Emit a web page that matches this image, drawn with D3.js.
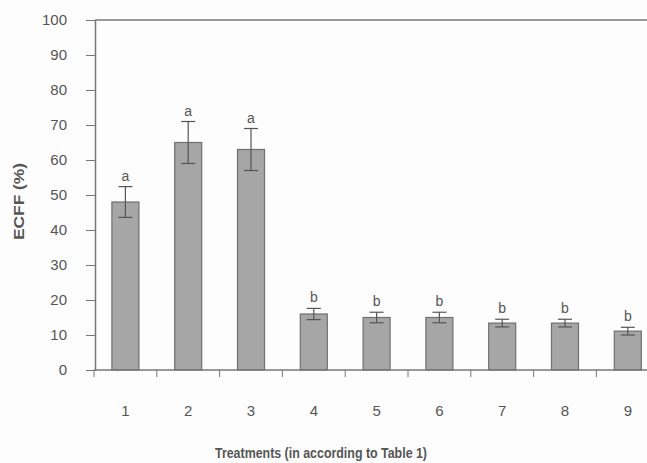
<!DOCTYPE html>
<html lang="en">
<head>
    <meta charset="UTF-8">
    <title>ECFF by treatment</title>
    <script src="https://cdn.jsdelivr.net/npm/d3@7"></script>
    <style>
        body{
            margin:0;
            background-color:#fdfdfd;
        }
        .textos{
            font-family: 'Liberation Sans', Arial, sans-serif;
            fill:#555;
        }
    </style>
</head>
<body>
    <div id="grafico"></div>

<script>
var treatments = ["1","2","3","4","5","6","7","8","9"];
var ecff = [48, 65, 63, 16, 15, 15, 13.4, 13.4, 11.1];
var errors = [4.4, 6, 6, 1.6, 1.5, 1.5, 1.1, 1.1, 1.1];
var letters = ["a","a","a","b","b","b","b","b","b"];
var yTicks = [0,10,20,30,40,50,60,70,80,90,100];

var w = 647;
var h = 463;
var margenIzq = 95, margenSup = 20, base = 370;
var bandW = 62.8;

var xScale = d3.scaleBand()
    .domain(treatments)
    .range([margenIzq - 1, margenIzq - 1 + bandW * treatments.length])
    .paddingInner(0.57)
    .paddingOuter(0.285)

var xTicks = d3.scaleBand()
    .domain(treatments)
    .range([margenIzq - 1, margenIzq - 1 + bandW * treatments.length])

var yScale = d3.scaleLinear()
    .domain([0, 100])
    .range([base, margenSup])

var grafico = d3.select("#grafico")
    .append("svg")
    .attr("width", w)
    .attr("height", h);

// linea superior
grafico.append("line")
    .attr("x1", margenIzq).attr("x2", w)
    .attr("y1", yScale(100)).attr("y2", yScale(100))
    .attr("stroke", "#777").attr("stroke-width", 1.5)

// eje y
var ejeY = grafico.append("g")
    .attr("transform", "translate(" + margenIzq + ",0)")
    .call(d3.axisLeft(yScale).tickValues(yTicks).tickSize(9).tickPadding(19).tickSizeOuter(0))
ejeY.select(".domain").attr("stroke", "#777").attr("stroke-width", 1.5)
ejeY.selectAll(".tick line").attr("stroke", "#777")
ejeY.selectAll("text").attr("class", "textos").style("font-size", "15px").attr("fill", "#555")

// barras
grafico.selectAll("rect.barra")
    .data(ecff)
    .enter()
    .append("rect")
    .attr("class", "barra")
    .attr("x", function(d, i){ return xScale(treatments[i]) })
    .attr("width", xScale.bandwidth())
    .attr("y", function(d){ return yScale(d) })
    .attr("height", function(d){ return base - yScale(d) })
    .attr("fill", "#a6a6a6")
    .attr("stroke", "#6f6f6f")
    .attr("stroke-width", 1.2)

// barras de error
var err = grafico.selectAll("g.err")
    .data(ecff)
    .enter()
    .append("g")
    .attr("class", "err")
    .attr("stroke", "#555")
    .attr("stroke-width", 1.2)
err.append("line")
    .attr("x1", function(d, i){ return xScale(treatments[i]) + xScale.bandwidth()/2 })
    .attr("x2", function(d, i){ return xScale(treatments[i]) + xScale.bandwidth()/2 })
    .attr("y1", function(d, i){ return yScale(d + errors[i]) })
    .attr("y2", function(d, i){ return yScale(d - errors[i]) })
err.selectAll("line.cap")
    .data(function(d, i){ return [[i, d + errors[i]], [i, d - errors[i]]] })
    .enter()
    .append("line")
    .attr("class", "cap")
    .attr("x1", function(d){ return xScale(treatments[d[0]]) + xScale.bandwidth()/2 - 7 })
    .attr("x2", function(d){ return xScale(treatments[d[0]]) + xScale.bandwidth()/2 + 7 })
    .attr("y1", function(d){ return yScale(d[1]) })
    .attr("y2", function(d){ return yScale(d[1]) })

// letras
grafico.selectAll("text.letra")
    .data(letters)
    .enter()
    .append("text")
    .attr("class", "textos letra")
    .attr("x", function(d, i){ return xScale(treatments[i]) + xScale.bandwidth()/2 })
    .attr("y", function(d, i){ return yScale(ecff[i] + errors[i]) - 6 })
    .attr("text-anchor", "middle")
    .style("font-size", "14px")
    .text(function(d){ return d })

// eje x
var ejeX = grafico.append("g")
    .attr("transform", "translate(0," + base + ")")
ejeX.append("line")
    .attr("x1", margenIzq - 1).attr("x2", w)
    .attr("stroke", "#777").attr("stroke-width", 1.5)
ejeX.selectAll("line.tick")
    .data(treatments.concat(["fin"]))
    .enter()
    .append("line")
    .attr("class", "tick")
    .attr("x1", function(d, i){ return margenIzq - 1 + i * xTicks.step() })
    .attr("x2", function(d, i){ return margenIzq - 1 + i * xTicks.step() })
    .attr("y1", 0).attr("y2", 7)
    .attr("stroke", "#777")
ejeX.selectAll("text")
    .data(treatments)
    .enter()
    .append("text")
    .attr("class", "textos")
    .attr("x", function(d){ return xTicks(d) + xTicks.bandwidth()/2 })
    .attr("y", 46)
    .attr("text-anchor", "middle")
    .style("font-size", "15px")
    .text(function(d){ return d })

// titulos
grafico.append("text")
    .attr("class", "textos")
    .attr("x", 215).attr("y", 458)
    .attr("textLength", 212)
    .attr("lengthAdjust", "spacingAndGlyphs")
    .style("font-size", "15px").style("font-weight", "bold")
    .attr("fill", "#444")
    .text("Treatments (in according to Table 1)")

grafico.append("text")
    .attr("class", "textos")
    .attr("transform", "translate(24,240) rotate(-90)")
    .attr("textLength", 77)
    .attr("lengthAdjust", "spacingAndGlyphs")
    .style("font-size", "15px").style("font-weight", "bold")
    .attr("fill", "#444")
    .text("ECFF (%)")
</script>
</body>
</html>
